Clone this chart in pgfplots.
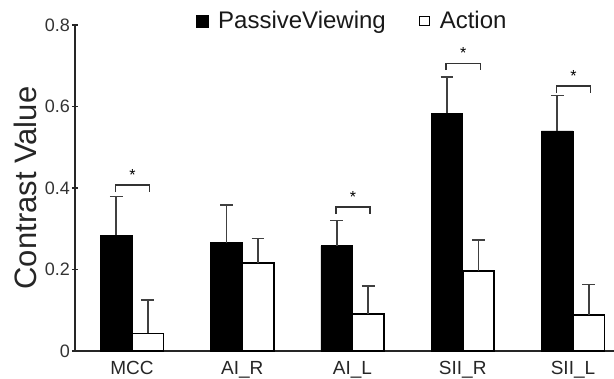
\documentclass[border=0pt]{standalone}
\usepackage{pgfplots}
\pgfplotsset{compat=1.18}
\usepackage{fontspec}
\setmainfont{Liberation Sans}
\begin{document}
\begin{tikzpicture}
\begin{axis}[
  scale only axis,
  width=269.5pt, height=163pt,
  xmin=-0.517, xmax=4.372,
  ymin=0, ymax=0.8,
  axis x line=bottom, axis y line=left,
  axis line style={-, line width=1pt, black!85},
  xtick={0,1,2,3,4},
  xticklabels={MCC,AI\_R,AI\_L,SII\_R,SII\_L},
  major x tick style={draw=none},
  ytick={0,0.2,0.4,0.6,0.8},
  yticklabels={0,0.2,0.4,0.6,0.8},
  tick align=center,
  major tick length=3pt,
  ytick style={line width=0.8pt, black!85},
  /pgf/number format/assume math mode=true,
  xticklabel style={font=\fontsize{9.5}{11}\selectfont, text=black!85},
  yticklabel style={font=\fontsize{9}{11}\selectfont, text=black!80, xshift=2.5pt},
  ylabel={Contrast Value},
  ylabel shift=-3pt,
  ylabel style={font=\fontsize{15.5}{18}\selectfont, text=black!85},
  legend columns=2,
  legend style={draw=none, fill=none, at={(rel axis cs:0.516,1.012)}, anchor=center,
    font=\fontsize{12}{14}\selectfont, text=black!90,
    /tikz/every even column/.append style={column sep=14pt}},
  clip=false,
]
\coordinate (bl) at (rel axis cs:0,0);
\addplot[ybar, bar width=15.75pt, bar shift=0pt, fill=black, draw=black,
  legend image code/.code={\fill[black] (0pt,-3pt) rectangle (6pt,3pt); \path[draw=none, fill=none] (0pt,0pt) -- (9pt,0pt);},
  error bars/.cd, y dir=plus, y explicit,
  error bar style={line width=0.8pt, black!75},
  error mark options={rotate=90, mark size=3.2pt, line width=0.8pt, black!75},
  ]
  coordinates {(-0.143,0.284) +- (0,0.095) (0.857,0.266) +- (0,0.093) (1.857,0.258) +- (0,0.062) (2.857,0.583) +- (0,0.090) (3.857,0.540) +- (0,0.087)};
\addlegendentry{PassiveViewing}
\addplot[ybar, bar width=15.75pt, bar shift=0pt, fill=white, draw=black, line width=0.9pt,
  legend image code/.code={\draw[black, line width=0.5pt, fill=white] (0.8pt,-2.4pt) rectangle (5.6pt,2.4pt); \path[draw=none, fill=none] (0pt,0pt) -- (9pt,0pt);},
  error bars/.cd, y dir=plus, y explicit,
  error bar style={line width=0.8pt, black!75},
  error mark options={rotate=90, mark size=3.2pt, line width=0.8pt, black!75},
  ]
  coordinates {(0.143,0.043) +- (0,0.082) (1.143,0.215) +- (0,0.061) (2.143,0.091) +- (0,0.068) (3.143,0.197) +- (0,0.075) (4.143,0.088) +- (0,0.075)};
\addlegendentry{Action}
% significance brackets
\addplot[sharp plot, black!80, line width=0.8pt, forget plot] coordinates {(-0.15,0.390) (-0.15,0.407) (0.16,0.407) (0.16,0.390)};
\addplot[sharp plot, black!80, line width=0.8pt, forget plot] coordinates {(1.85,0.336) (1.85,0.353) (2.16,0.353) (2.16,0.336)};
\addplot[sharp plot, black!80, line width=0.8pt, forget plot] coordinates {(2.85,0.689) (2.85,0.706) (3.16,0.706) (3.16,0.689)};
\addplot[sharp plot, black!80, line width=0.8pt, forget plot] coordinates {(3.85,0.633) (3.85,0.650) (4.16,0.650) (4.16,0.633)};
\node[inner sep=0pt, font=\fontsize{8}{9}\selectfont] at (axis cs:0.005,0.433) {*};
\node[inner sep=0pt, font=\fontsize{8}{9}\selectfont] at (axis cs:2.005,0.379) {*};
\node[inner sep=0pt, font=\fontsize{8}{9}\selectfont] at (axis cs:3.005,0.732) {*};
\node[inner sep=0pt, font=\fontsize{8}{9}\selectfont] at (axis cs:4.005,0.676) {*};
\end{axis}
\pgfresetboundingbox
\path (bl) ++(-37.5pt,-14pt) rectangle ++(307pt,189.5pt);
\end{tikzpicture}
\end{document}
